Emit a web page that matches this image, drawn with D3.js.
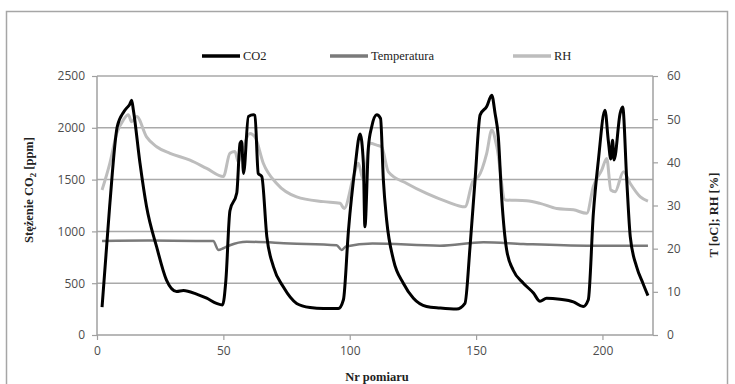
<!DOCTYPE html>
<html lang="pl">
<head>
<meta charset="UTF-8">
<title>CO2, temperatura, RH</title>
<script src="https://cdnjs.cloudflare.com/ajax/libs/d3/7.8.5/d3.min.js"></script>
<style>
    body { margin: 0; background: #fff; }
    .tick text { font-family: "Open Sans", sans-serif; font-size: 12px; fill: #4d4d4d; }
</style>
</head>
<body>
<div id="chart"></div>
<script>
    // measurement number / CO2 [ppm]
    var co2X = [2, 5, 8, 10.5, 11.7, 12.8, 13.7, 14.4, 17, 19.6, 23.6, 27.5, 31.5, 34.2, 39.4, 43.4, 47.3, 49.7,
        51, 52.6, 55.3, 56.6, 57.2, 58, 59.9, 61.9, 62.5, 63.8, 65.2, 67.2, 69.8, 73.7, 79, 84.3, 89.6, 95.5,
        97.5, 99.5, 102.1, 104.1, 105.4, 106, 107.4, 108.7, 110.7, 112.2, 113.3, 114.6, 117.3, 121.2, 125.2, 130.4,
        135.7, 142.3, 145.6, 147.6, 149.6, 151.6, 154.2, 156.2, 157.5, 158.8, 160.1, 162.1, 164.7, 168.7, 172.7,
        175.3, 177.9, 183.2, 188.5, 192.4, 194.4, 196.4, 198.4, 201, 202.3, 203.3, 204, 204.6, 207, 208, 209.6,
        211, 213.5, 216, 218];
    var co2Y = [270, 1240, 2010, 2150, 2190, 2220, 2265, 2170, 1660, 1240, 850, 530, 420, 430, 395, 355, 305, 290,
        530, 1200, 1370, 1850, 1870, 1560, 2110, 2125, 2120, 1560, 1530, 950, 660, 465, 305, 265, 255, 255,
        340, 1010, 1620, 1940, 1660, 1045, 1815, 2010, 2125, 2090, 1500, 1110, 725, 500, 355, 275,
        260, 250, 305, 850, 1500, 2125, 2205, 2315, 2140, 1910, 1335, 820, 625, 500, 405,
        325, 355, 345, 320, 275, 340, 1175, 1690, 2170, 1880, 1700, 1880, 1690, 2140, 2200, 1500,
        950, 660, 500, 380];

    // temperature [oC]
    var tempX = [2, 20, 40, 46, 48, 50, 52.6, 59.2, 76.4, 94.8, 96.8, 98.5, 109, 135.7, 152.9, 168.7, 193.8, 218];
    var tempY = [21.8, 21.9, 21.8, 21.8, 19.7, 20.1, 20.8, 21.6, 21.2, 20.8, 19.7, 20.5, 21.2, 20.7, 21.5, 21.1, 20.7, 20.7];

    // relative humidity [%]
    var rhX = [2, 5.1, 7.8, 10.4, 12.4, 13.7, 15.7, 19.6, 23.6, 28.9, 36.8, 43.4, 50, 52.6, 54.6, 55.9, 57.9, 60.5,
        62.5, 65.8, 71.1, 79, 89.6, 96.2, 97.8, 101.5, 103.4, 105.4, 108, 110.7, 112.6, 115.3, 122.6, 130.4, 138.4,
        145.6, 148.9, 150.9, 154.2, 156.2, 158.2, 161.5, 170, 175.3, 181.9, 188.5, 193.8, 196.4, 199.7, 201.7,
        203.3, 205, 208.3, 211, 215, 218];
    var rhY = [33.6, 39.8, 46.7, 49.8, 51, 49.4, 50.6, 45.9, 43.6, 42.1, 40.5, 38.6, 36.7, 42.1, 42.5, 40.1, 43.6, 46.7,
        45.9, 39.8, 35.1, 32, 30.9, 30.5, 29.3, 36.7, 39.8, 35.9, 44.4, 44, 43.6, 37.8, 35.1, 32.8, 30.9,
        29.7, 35.9, 36.7, 42.1, 47.5, 43.6, 31.3, 31.1, 30.5, 29.3, 29, 28.2, 34.4, 38.2, 40.9,
        33.6, 33.2, 37.8, 35.1, 32, 31];

    var xTicks = [0, 50, 100, 150, 200];
    var leftTicks = [0, 500, 1000, 1500, 2000, 2500];
    var rightTicks = [0, 10, 20, 30, 40, 50, 60];

    var seriesNames = ['CO2', 'Temperatura', 'RH'];
    var seriesColors = ['#000000', '#7a7a7a', '#bdbdbd'];

    var width = 735, height = 384;
    var svg = d3.select('#chart').append('svg')
        .attr('width', width)
        .attr('height', height);

    // outer frame
    svg.append('rect')
        .attr('x', 6.5).attr('y', 11.5)
        .attr('width', 721).attr('height', 400)
        .attr('fill', 'none')
        .attr('stroke', '#a6a6a6')
        .attr('stroke-width', 1.5);

    var x = d3.scaleLinear().domain([0, 220]).range([97, 653]);
    var yL = d3.scaleLinear().domain([0, 2500]).range([335, 76]);
    var yR = d3.scaleLinear().domain([0, 60]).range([335, 76]);

    // gridlines
    svg.append('g')
        .selectAll('line')
        .data(leftTicks.slice(1))
        .join('line')
        .attr('x1', x(0)).attr('x2', x(220))
        .attr('y1', d => yL(d)).attr('y2', d => yL(d))
        .attr('stroke', '#a9a9a9')
        .attr('stroke-width', 1.5);

    // axes
    var fmt = d3.format('d');
    var axisX = svg.append('g')
        .attr('transform', 'translate(0,' + yL(0) + ')')
        .call(d3.axisBottom(x).tickValues(xTicks).tickFormat(fmt).tickSize(5).tickPadding(6));
    var axisL = svg.append('g')
        .attr('transform', 'translate(' + x(0) + ',0)')
        .call(d3.axisLeft(yL).tickValues(leftTicks).tickFormat(fmt).tickSize(5).tickPadding(7));
    var axisR = svg.append('g')
        .attr('transform', 'translate(' + x(220) + ',0)')
        .call(d3.axisRight(yR).tickValues(rightTicks).tickFormat(fmt).tickSize(5).tickPadding(9));

    [axisX, axisL, axisR].forEach(function (g) {
        g.select('.domain').attr('stroke', '#a0a0a0').attr('stroke-width', 1.5);
        g.selectAll('.tick line').attr('stroke', '#a0a0a0').attr('stroke-width', 1.2);
    });
    axisR.select('.domain').attr('d', 'M0,' + yR(60) + 'V' + yR(0));
    axisL.select('.domain').attr('d', 'M0,' + yL(2500) + 'V' + yL(0));
    axisX.select('.domain').attr('d', 'M' + x(0) + ',0H' + x(220));

    // lines
    function series(xs, ys) {
        return xs.map(function (v, i) { return [v, ys[i]]; });
    }
    var lineL = d3.line().x(d => x(d[0])).y(d => yL(d[1])).curve(d3.curveMonotoneX);
    var lineR = d3.line().x(d => x(d[0])).y(d => yR(d[1])).curve(d3.curveMonotoneX);

    svg.append('path')
        .attr('d', lineR(series(rhX, rhY)))
        .attr('fill', 'none').attr('stroke', seriesColors[2])
        .attr('stroke-width', 3).attr('stroke-linejoin', 'round');
    svg.append('path')
        .attr('d', lineR(series(tempX, tempY)))
        .attr('fill', 'none').attr('stroke', seriesColors[1])
        .attr('stroke-width', 2.5).attr('stroke-linejoin', 'round');
    svg.append('path')
        .attr('d', lineL(series(co2X, co2Y)))
        .attr('fill', 'none').attr('stroke', seriesColors[0])
        .attr('stroke-width', 3).attr('stroke-linejoin', 'round');

    // legend
    var legendX = [202, 330, 513];
    var legend = svg.append('g');
    seriesNames.forEach(function (name, i) {
        legend.append('line')
            .attr('x1', legendX[i]).attr('x2', legendX[i] + 38)
            .attr('y1', 56).attr('y2', 56)
            .attr('stroke', seriesColors[i]).attr('stroke-width', 3.5);
        legend.append('text')
            .attr('x', legendX[i] + 41).attr('y', 60)
            .attr('font-family', '"Liberation Serif", serif')
            .attr('font-size', 12.5)
            .attr('fill', '#222')
            .text(name);
    });

    // axis titles
    var leftTitle = svg.append('text')
        .attr('transform', 'translate(33,190) rotate(-90)')
        .attr('text-anchor', 'middle')
        .attr('font-family', '"Liberation Serif", serif')
        .attr('font-weight', 'bold')
        .attr('font-size', 12.5)
        .attr('fill', '#222');
    leftTitle.append('tspan').text('Stężenie CO');
    leftTitle.append('tspan').attr('font-size', 9).attr('dy', 3).text('2');
    leftTitle.append('tspan').attr('dy', -3).text(' [ppm]');

    svg.append('text')
        .attr('transform', 'translate(718,215) rotate(-90)')
        .attr('text-anchor', 'middle')
        .attr('font-family', '"Liberation Serif", serif')
        .attr('font-weight', 'bold')
        .attr('font-size', 12.5)
        .attr('fill', '#222')
        .text('T [oC]; RH [%]');

    svg.append('text')
        .attr('x', 377).attr('y', 381)
        .attr('text-anchor', 'middle')
        .attr('font-family', '"Liberation Serif", serif')
        .attr('font-weight', 'bold')
        .attr('font-size', 12.5)
        .attr('fill', '#222')
        .text('Nr pomiaru');
</script>
</body>
</html>
